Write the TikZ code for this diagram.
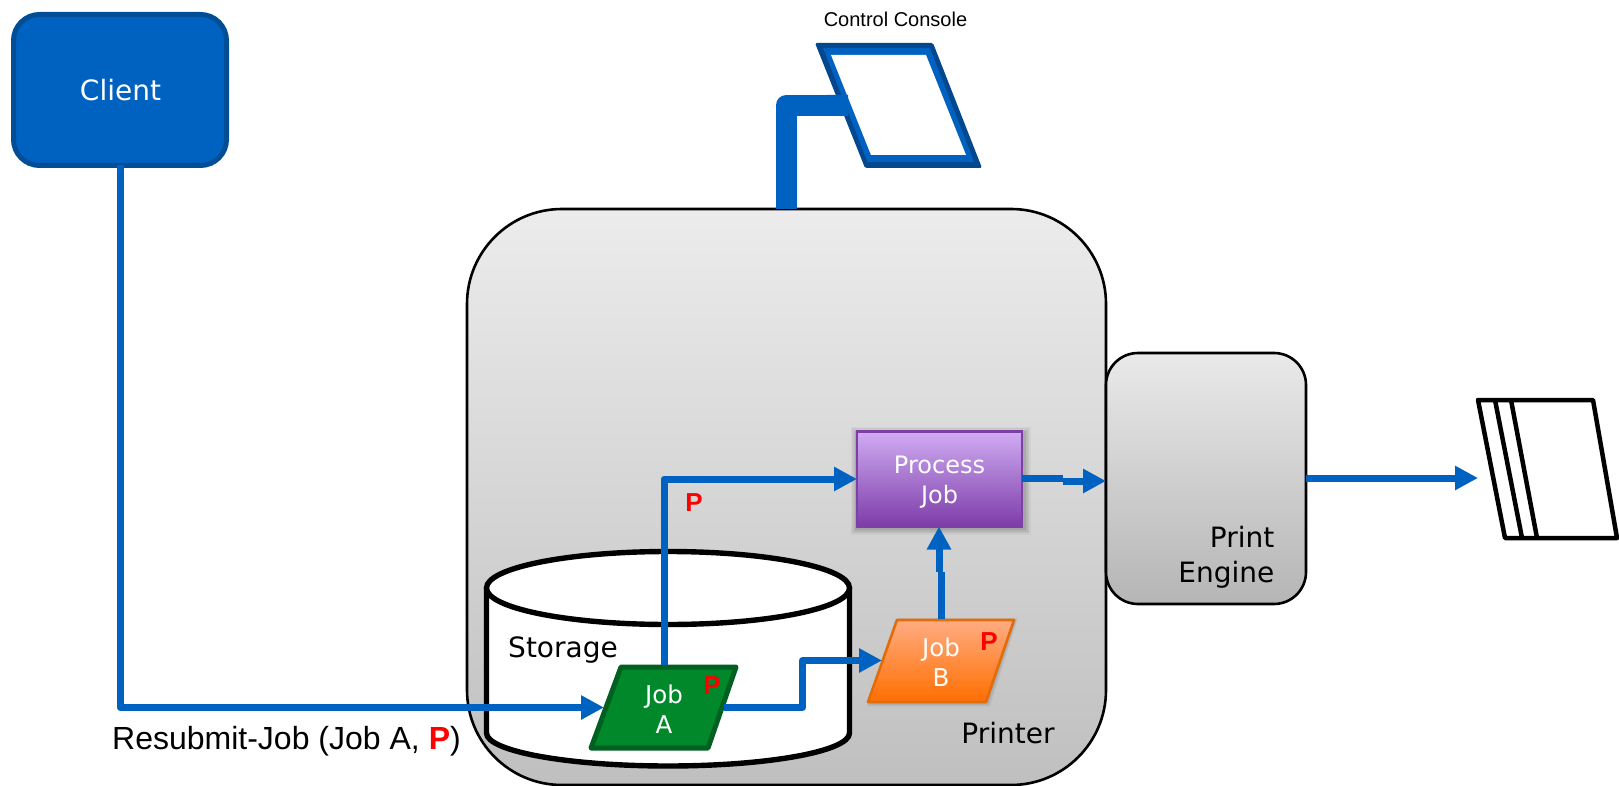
\documentclass[tikz,border=0pt]{standalone}
\usepackage{fontspec}
\setmainfont{DejaVu Sans}
\newfontfamily\arialfont{Liberation Sans}
\usetikzlibrary{arrows.meta}
\definecolor{linkblue}{HTML}{0062C0}
\definecolor{clientedge}{HTML}{024E96}
\definecolor{consoledark}{HTML}{03488F}
\tikzset{
  x=1pt,y=-1pt,
  link/.style={draw=linkblue,line width=7pt,-{Triangle[length=23pt,width=23pt]},line join=round},
  plain link/.style={draw=linkblue,line width=7pt,line join=round},
  graybox/.style={draw=black,line width=2.6pt,inner sep=0pt,outer sep=0pt,rectangle},
  lab/.style={inner sep=0pt,align=center,font=\fontsize{28}{35}\selectfont},
  joblab/.style={inner sep=0pt,outer sep=0pt,rectangle,align=center,text=white,font=\fontsize{24.5}{30}\selectfont},
  pmark/.style={inner sep=0pt,text=red,font=\arialfont\bfseries\fontsize{26}{30}\selectfont},
}
\begin{document}
\begin{tikzpicture}
\useasboundingbox (0,0) rectangle (1619,786);
% client
\node[rectangle,rounded corners=26pt,draw=clientedge,line width=5pt,fill=linkblue,minimum width=213pt,minimum height=151pt,inner sep=0pt,outer sep=0pt,text=white,font=\fontsize{28}{32}\selectfont] (client) at (120,90) {\hspace{1pt}Client};
% printer
\node[graybox,rounded corners=95pt,top color=gray!15!white,bottom color=gray!50!white,minimum width=639pt,minimum height=576pt] (printer) at (786.5,497) {};
\node[graybox,rounded corners=32pt,top color=gray!17!white,bottom color=gray!58!white,minimum width=200pt,minimum height=251pt] (engine) at (1206,478.5) {};
\node[lab,align=right,anchor=east] (enginelab) at (1274.5,557) {Print\\Engine};
\node[lab] (printerlab) at (1008,733) {Printer};
% storage
\filldraw[fill=white,draw=black,line width=5.4pt] (486.5,588) -- (486.5,733) arc[start angle=180,end angle=360,x radius=181.5pt,y radius=33pt] -- (849.5,588);
\filldraw[fill=white,draw=black,line width=5.4pt] (668,588) ellipse[x radius=181.5pt,y radius=36.5pt];
\node[lab] (storage) at (563,650) {Storage};
% console
\coordinate (cnsl) at (848,105.5);
\draw[plain link,line width=21pt] (printer.north -| 786,209) |- (cnsl);
\fill[consoledark,rounded corners=1.5pt] (815,43) -- (933,43) -- (982,168) -- (865,168) -- cycle;
\fill[linkblue] (823,48) -- (930,48) -- (974,162) -- (867.5,162) -- cycle;
\fill[white] (831,55) -- (926,55) -- (966,155) -- (871,155) -- cycle;
\fill[linkblue] (826,95) -- (848,95) -- (848,116) -- (835,116) -- cycle;
\node[inner sep=0pt,font=\arialfont\fontsize{20}{24}\selectfont] (consolelab) at (895.5,19.5) {Control Console};
% soft shadows
\foreach \g/\o in {6/.04,4.5/.05,3/.06,1.5/.08}{
  \fill[black,opacity=\o] (855-\g+1.5,431-\g+1.5) rectangle (1023+\g+1.5,527+\g+1.5);
  \fill[black,opacity=\o*.6] (897-\g*.5+1.5,619-\g*.5+1.5) -- (1014+\g*.5+1.5,619-\g*.5+1.5) -- (986+\g*.5+1.5,702+\g*.5+1.5) -- (868-\g*.5+1.5,702+\g*.5+1.5) -- cycle;
}
\node[rectangle,line width=2.2pt,draw={rgb,255:red,125;green,63;blue,165},top color={rgb,255:red,208;green,172;blue,243},bottom color={rgb,255:red,124;green,60;blue,168},minimum width=165pt,minimum height=95pt,inner sep=0pt,outer sep=0pt,text=white,align=center,font=\fontsize{24}{30}\selectfont] (process) at (939.5,479) {\rule{0pt}{24.5pt}Process\\Job};
% job parallelograms
\filldraw[draw={rgb,255:red,0;green,96;blue,32},fill={rgb,255:red,0;green,136;blue,43},line width=5pt,line join=round] (621,667) -- (736,667) -- (708,748) -- (591,748) -- cycle;
\filldraw[draw={rgb,255:red,226;green,107;blue,10},line width=2.6pt,top color={rgb,255:red,255;green,172;blue,130},bottom color={rgb,255:red,255;green,110;blue,0},line join=round] (897,620) -- (1014,620) -- (986,702) -- (868,702) -- cycle;
\node[joblab,minimum width=120pt,minimum height=85pt] (joba) at (664,707.5) {\rule{0pt}{22.2pt}Job\\A};
\node[joblab,minimum width=118pt,minimum height=83pt] (jobb) at (941,660.5) {\rule{0pt}{22.2pt}Job\\B};
\node[pmark] (pa) at (712,686) {P};
\node[pmark] (pb) at (989,642) {P};
\node[pmark] (pc) at (694,503) {P};
% connectors
\draw[link] (client.south) |- (joba.west);
\draw[link] (joba.north) |- (process.west);
\coordinate (abend) at (802.5,660.5);
\draw[link] (joba.east) -| (abend) -- (jobb.west);
\coordinate (bstep) at (941,572);
\coordinate (bstep2) at (939,572);
\draw[plain link] (jobb.north) -- (bstep);
\draw[link] (bstep2) -- (process.south -| bstep2);
\coordinate (pstep) at (1063,478);
\coordinate (pstep2) at (1063,481);
\coordinate (ptip) at (1106,481);
\draw[plain link] (process.east |- pstep) -- (pstep);
\draw[link] (pstep2) -- (ptip);
\coordinate (outstart) at (1306,478);
\coordinate (sheetin) at (1478,478);
\draw[link] (outstart) -- (sheetin);
% output sheets
\filldraw[fill=white,draw=black,line width=4.5pt,line join=round] (1478,400) -- (1593,400) -- (1617,538) -- (1505,538) -- cycle;
\draw[black,line width=4.5pt] (1495,400) -- (1522,538);
\draw[black,line width=4.5pt] (1511,400) -- (1537,538);
% label
\node[inner sep=0pt,anchor=base west,font=\arialfont\fontsize{32}{36}\selectfont] (resubmit) at (112,749) {Resubmit-Job (Job A, \textcolor{red}{\bfseries P})};
\end{tikzpicture}
\end{document}
